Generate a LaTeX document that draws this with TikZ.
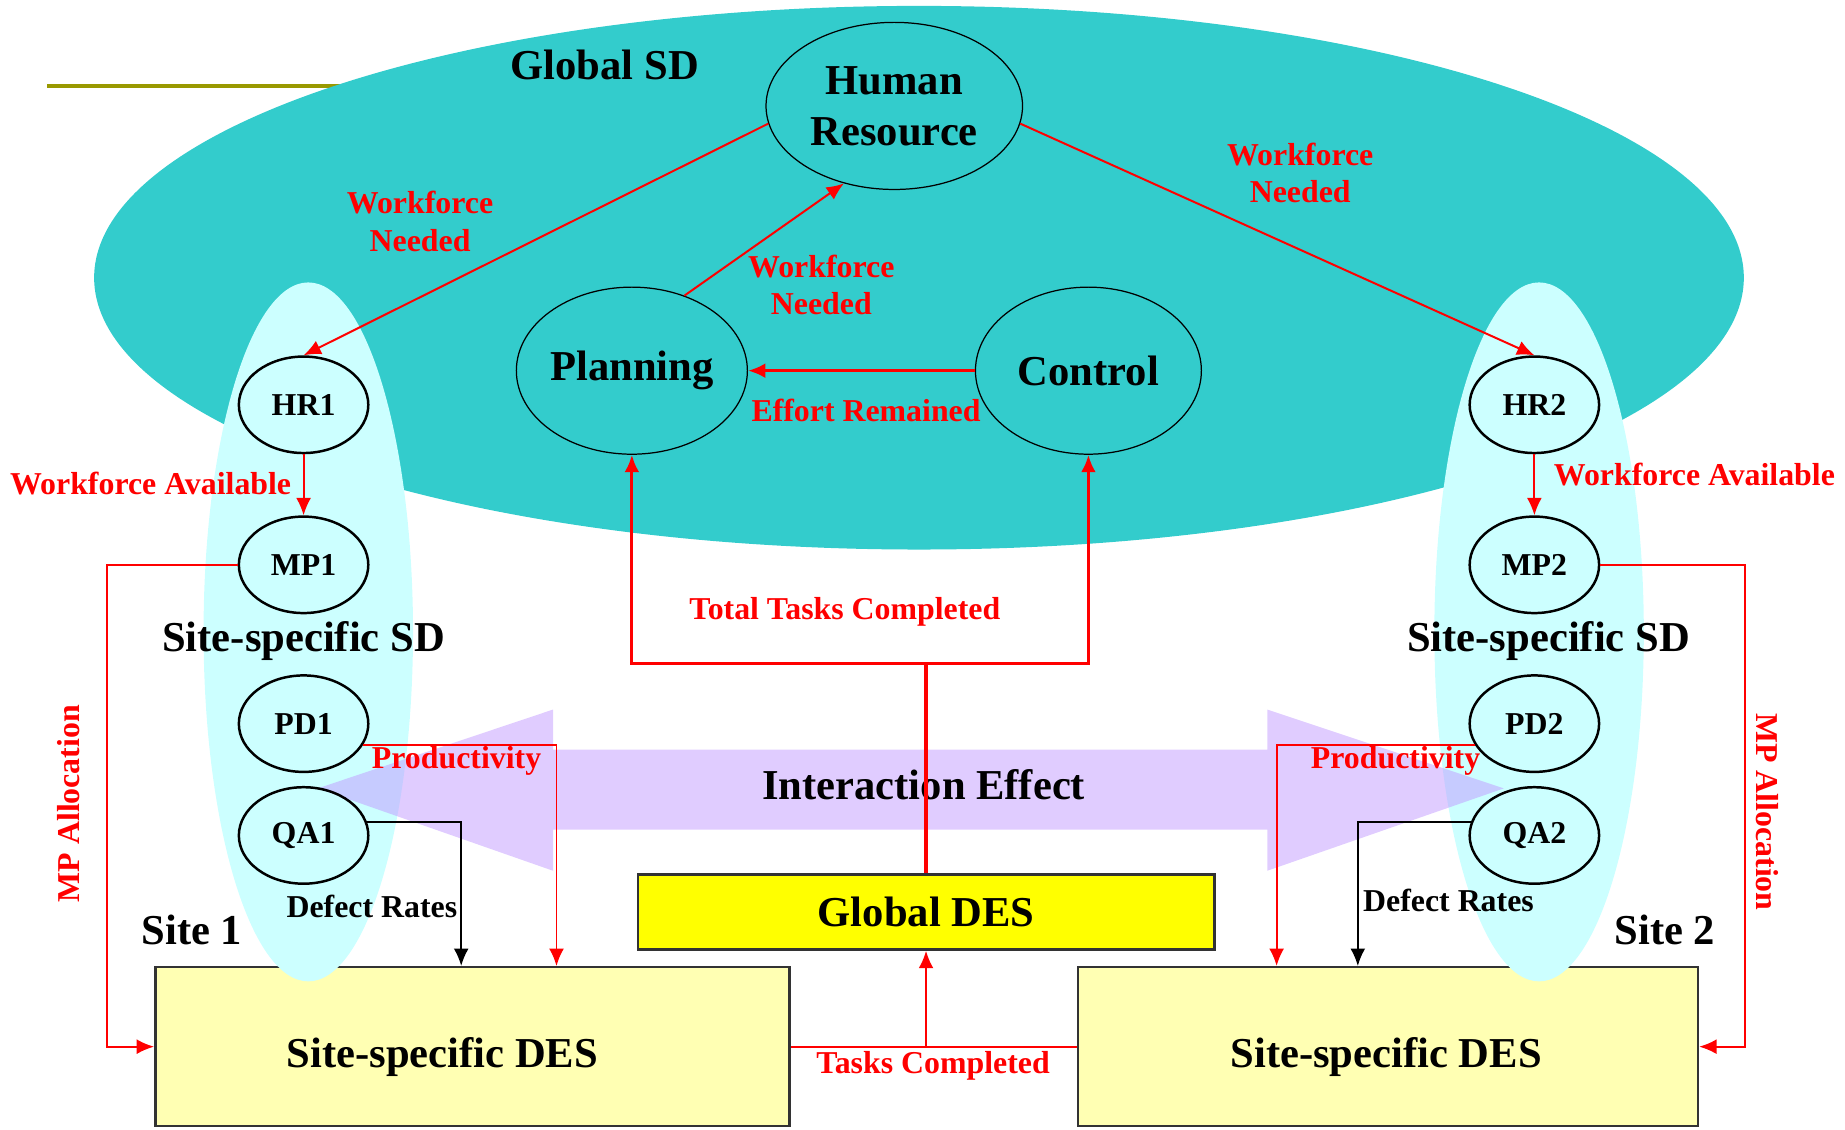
\documentclass[tikz,border=0pt]{standalone}
\usepackage{fontspec}
\setmainfont{Liberation Serif}
\usetikzlibrary{shapes.geometric,arrows.meta}
\definecolor{globalsd}{HTML}{33CCCC}
\definecolor{sitesd}{HTML}{CCFFFF}
\definecolor{desyel}{HTML}{FFFFB3}
\definecolor{gdesyel}{HTML}{FFFF00}
\definecolor{effect}{HTML}{C199FF}
\definecolor{rulecol}{HTML}{999900}
\newcommand\bigtxt{\fontsize{10.3}{12.3}\selectfont\bfseries}
\newcommand\smalltxt{\fontsize{7.7}{9.1}\selectfont\bfseries}
\tikzset{>={Latex[length=4.2pt,width=3.6pt]}}

\begin{document}
\begin{tikzpicture}[x=1cm,y=-1cm,
    sdnode/.style={ellipse, draw, line width=0.3pt, inner sep=0pt, minimum height=1.42cm, font=\bigtxt, align=center},
    sitenode/.style={ellipse, draw, line width=0.6pt, inner sep=0pt, minimum width=1.1cm, minimum height=0.82cm, font=\smalltxt},
    desbox/.style={draw=black!80, line width=0.6pt, fill=desyel, minimum height=1.35cm},
    sdtitle/.style={font=\bigtxt},
    lbl/.style={font=\smalltxt, text=red, align=center},
    flow/.style={red, line width=0.48pt, ->},
    info/.style={black, line width=0.48pt, ->},
    main/.style={red, line width=0.75pt, ->}]

    \useasboundingbox (0,0) rectangle (15.68,9.60);

    % global SD backdrop
    \draw[rulecol, line width=1pt] (0.40,0.73) -- (2.90,0.73);
    \fill[globalsd] (7.81,2.36) ellipse [x radius=7.01, y radius=2.31];

    % DES boxes
    \node[desbox, minimum width=5.39cm] (des1) at (4.015,8.895) {};
    \node[desbox, minimum width=5.27cm] (des2) at (11.795,8.895) {};
    \node[draw=black!80, line width=0.6pt, fill=gdesyel, minimum width=4.9cm, minimum height=0.64cm, font=\bigtxt] (gdes) at (7.87,7.75) {Global DES};

    % site SD backdrops
    \fill[sitesd] (2.62,5.37) ellipse [x radius=0.89, y radius=2.97];
    \fill[sitesd] (13.08,5.37) ellipse [x radius=0.89, y radius=2.97];

    % interaction effect arrow
    \fill[effect, fill opacity=0.5] (2.70,6.70) -- (4.70,6.03) -- (4.70,6.37) -- (10.77,6.37) -- (10.77,6.03) -- (12.78,6.70)
        -- (10.77,7.40) -- (10.77,7.05) -- (4.70,7.05) -- (4.70,7.40) -- cycle;

    \node[sdnode, minimum width=2.18cm] (hr) at (7.60,0.90) {Human\\Resource};
    \node[sdnode, minimum width=1.94cm] (plan) at (5.37,3.15) {Planning};
    \node[sdnode, minimum width=1.92cm] (ctrl) at (9.25,3.15) {Control};

    \foreach \nm/\y in {HR/3.44, MP/4.80, PD/6.15, QA/7.10}
    {
        \node[sitenode] (\nm1) at (2.58,\y) {\nm1};
        \node[sitenode] (\nm2) at (13.04,\y) {\nm2};
    }

    \node[sdtitle] (gsd) at (5.14,0.55) {Global SD};
    \node[sdtitle] (ssd1) at (2.58,5.45) {Site-specific SD};
    \node[sdtitle] (ssd2) at (13.16,5.45) {Site-specific SD};
    \node[sdtitle] (site1) at (1.63,7.90) {Site 1};
    \node[sdtitle] (site2) at (14.15,7.90) {Site 2};
    \node[sdtitle] (ie) at (7.85,6.67) {Interaction Effect};
    \node[sdtitle] (des1txt) at (3.76,8.98) {Site-specific DES};
    \node[sdtitle] (des2txt) at (11.78,8.98) {Site-specific DES};

    % connectors
    \draw[flow] (hr.188) -- (HR1.north);
    \draw[flow] (hr.352) -- (HR2.north);
    \draw[flow] (plan.55) -- (hr.237);
    \draw[main] (ctrl.west) -- (plan.east);
    \draw[flow] (HR1) -- (MP1);
    \draw[flow] (HR2) -- (MP2);
    \draw[flow] (MP1.west) -- ++(-1.11,0) |- (des1.west);
    \draw[flow] (MP2.east) -- ++(1.23,0) |- (des2.east);
    \draw[flow] (PD1.340) -| ([xshift=3.42cm]des1.north west);
    \draw[info] (QA1.12) -| ([xshift=2.61cm]des1.north west);
    \draw[flow] (PD2.200) -| ([xshift=1.70cm]des2.north west);
    \draw[info] (QA2.168) -| ([xshift=2.39cm]des2.north west);
    \coordinate (tot) at ([yshift=1.78cm]gdes.north);
    \draw[main,-] (gdes.north) -- (tot);
    \draw[main] (tot) -| (plan.south);
    \draw[main] (tot) -| (ctrl.south);
    \draw[flow,-] (des1.east) -- (des2.west);
    \draw[flow] (des1.east -| gdes.south) -- (gdes.south);

    % labels
    \node[lbl] (wn1) at (3.57,1.88) {Workforce\\Needed};
    \node[lbl] (wn2) at (6.98,2.42) {Workforce\\Needed};
    \node[lbl] (wn3) at (11.05,1.47) {Workforce\\Needed};
    \node[lbl] (er) at (7.36,3.49) {Effort Remained};
    \node[lbl] (wa1) at (1.28,4.11) {Workforce Available};
    \node[lbl] (wa2) at (14.40,4.03) {Workforce Available};
    \node[lbl] (ttc) at (7.18,5.20) {Total Tasks Completed};
    \node[lbl] (pr1) at (3.88,6.47) {Productivity};
    \node[lbl] (pr2) at (11.86,6.47) {Productivity};
    \node[lbl] (tc) at (7.93,9.06) {Tasks Completed};
    \node[lbl, rotate=90] (mpa1) at (0.58,6.83) {MP Allocation};
    \node[lbl, rotate=-90] (mpa2) at (15.02,6.90) {MP Allocation};
    \node[font=\smalltxt] (dr1) at (3.16,7.70) {Defect Rates};
    \node[font=\smalltxt] (dr2) at (12.31,7.65) {Defect Rates};

\end{tikzpicture}
\end{document}
